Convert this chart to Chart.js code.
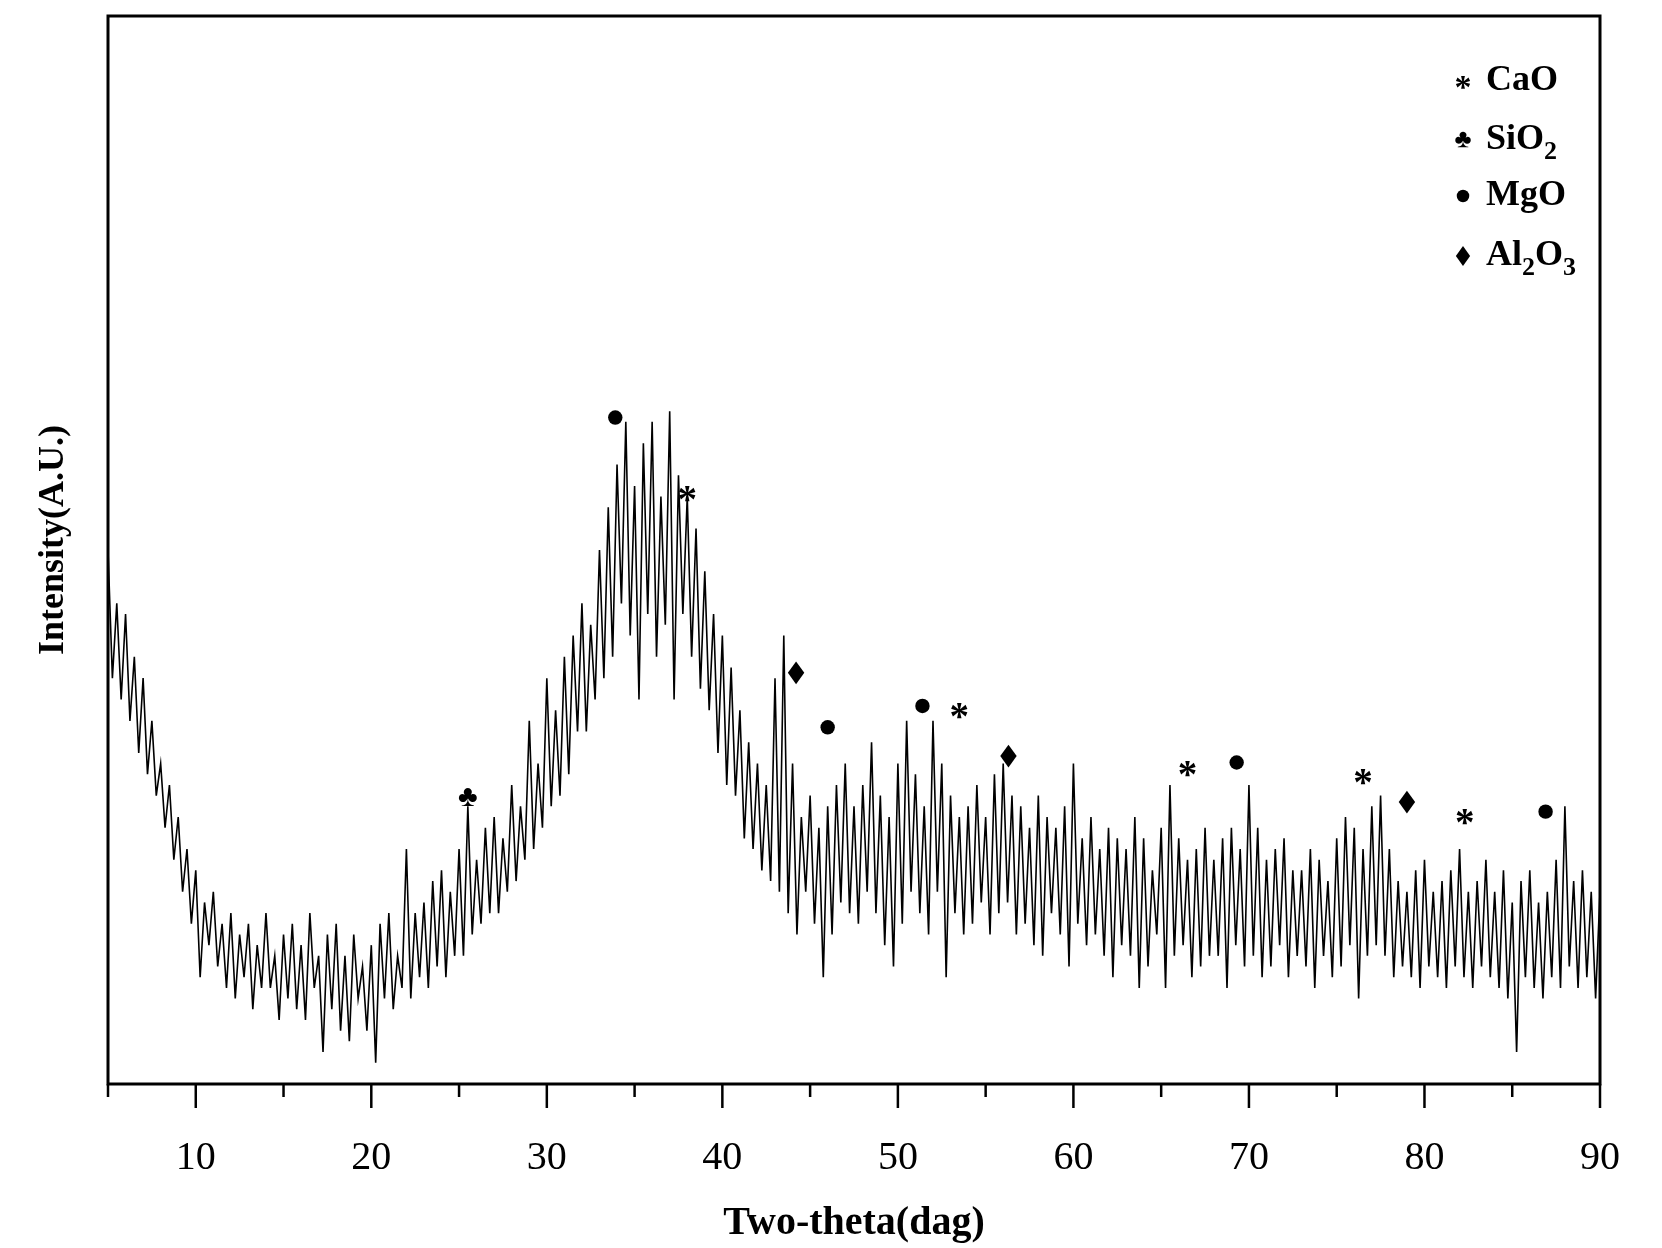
<!DOCTYPE html>
<html>
<head>
<meta charset="utf-8">
<script src="https://cdn.jsdelivr.net/npm/chart.js@4/dist/chart.umd.min.js"></script>
<style>
  body { margin: 0; background: #fff; }
  #wrap { width: 1662px; height: 1248px; }
</style>
</head>
<body>
<div id="wrap"><canvas id="xrd"></canvas></div>
<script>
// two-theta grid: 5 to 90 deg, step 0.25
const thetaStart = 5;
const thetaStep = 0.25;
const intensity = [
  50, 38, 45, 36, 44, 34, 40, 31, 38, 29, 34, 27, 30, 24, 28, 21,
  25, 18, 22, 15, 20, 10, 17, 13, 18, 11, 15, 9, 16, 8, 14, 10,
  15, 7, 13, 9, 16, 9, 12, 6, 14, 8, 15, 7, 13, 6, 16, 9,
  12, 3, 14, 7, 15, 5, 12, 4, 14, 8, 11, 5, 13, 2, 15, 8,
  16, 7, 12, 9, 22, 8, 16, 10, 17, 9, 19, 11, 20, 10, 18, 12,
  22, 12, 26, 14, 21, 15, 24, 16, 25, 16, 23, 18, 28, 19, 26, 21,
  34, 22, 30, 24, 38, 26, 35, 27, 40, 29, 42, 33, 45, 33, 43, 36,
  50, 38, 54, 40, 58, 45, 62, 42, 56, 36, 60, 44, 62, 40, 55, 43,
  63, 36, 57, 44, 55, 40, 52, 37, 48, 35, 44, 31, 42, 28, 39, 27,
  35, 23, 32, 22, 30, 20, 28, 19, 38, 18, 42, 16, 30, 14, 25, 18,
  27, 15, 24, 10, 26, 14, 28, 17, 30, 16, 26, 15, 28, 18, 32, 16,
  27, 13, 25, 11, 30, 15, 34, 18, 29, 16, 26, 14, 34, 18, 30, 10,
  27, 16, 25, 14, 26, 15, 28, 17, 25, 14, 29, 16, 30, 17, 27, 14,
  26, 15, 24, 13, 27, 12, 25, 16, 24, 14, 26, 11, 30, 15, 23, 13,
  25, 14, 22, 12, 24, 10, 23, 13, 22, 12, 25, 9, 23, 11, 20, 14,
  24, 9, 28, 12, 23, 13, 21, 10, 22, 11, 24, 12, 21, 12, 23, 9,
  24, 13, 22, 11, 28, 12, 24, 10, 21, 11, 22, 13, 23, 10, 20, 12,
  20, 11, 22, 9, 21, 12, 19, 10, 23, 11, 25, 13, 24, 8, 22, 12,
  26, 13, 27, 12, 22, 10, 19, 11, 18, 10, 20, 9, 21, 11, 18, 10,
  19, 9, 20, 11, 22, 10, 18, 9, 19, 11, 21, 10, 18, 9, 20, 8,
  17, 3, 19, 10, 20, 9, 17, 8, 18, 10, 21, 9, 26, 11, 19, 9,
  20, 10, 18, 8, 18
];

// phase markers: two-theta, height, symbol
const markTheta = [25.5, 33.9, 38.0, 44.2, 46.0, 51.4, 53.5, 56.3, 66.5, 69.3, 76.5, 79.0, 82.3, 86.9];
const markHeight = [26.8, 62.4, 55.3, 38.5, 33.4, 35.4, 35.0, 30.7, 29.6, 30.1, 28.8, 26.4, 25.1, 25.5];
const markSymbol = ['♣', '●', '*', '◆', '●', '●', '*', '◆', '*', '●', '*', '◆', '*', '●'];

const legendSymbols = ['*', '♣', '●', '◆'];
const legendNames = [['CaO'], ['SiO', '2'], ['MgO'], ['Al', '2', 'O', '3']];

const xLabels = [10, 20, 30, 40, 50, 60, 70, 80, 90];
const serif = '"Liberation Serif", "DejaVu Serif", serif';

function drawSymbol(ctx, sym, x, y, size) {
  ctx.fillStyle = '#000';
  if (sym === '●') {
    ctx.beginPath(); ctx.arc(x, y, size * 0.24, 0, Math.PI * 2); ctx.fill();
  } else if (sym === '◆') {
    const s = size * 0.38;
    ctx.beginPath();
    ctx.moveTo(x, y - s); ctx.lineTo(x + s * 0.72, y); ctx.lineTo(x, y + s); ctx.lineTo(x - s * 0.72, y);
    ctx.closePath(); ctx.fill();
  } else if (sym === '*') {
    ctx.font = 'bold ' + Math.round(size * 1.3) + 'px ' + serif;
    ctx.textAlign = 'center';
    ctx.textBaseline = 'middle';
    ctx.fillText(sym, x, y + size * 0.3);
  } else {
    ctx.font = 'bold ' + size + 'px ' + serif;
    ctx.textAlign = 'center';
    ctx.textBaseline = 'middle';
    ctx.fillText(sym, x, y);
  }
}

const decor = {
  id: 'decor',
  afterDraw(chart) {
    const ctx = chart.ctx;
    const a = chart.chartArea;
    const xs = chart.scales.x, ys = chart.scales.y;
    ctx.save();
    // frame
    ctx.strokeStyle = '#000';
    ctx.lineWidth = 3;
    ctx.strokeRect(a.left, a.top, a.right - a.left, a.bottom - a.top);
    // ticks
    ctx.lineWidth = 2.5;
    for (let t = 5; t <= 90; t += 5) {
      const px = xs.getPixelForValue(t);
      ctx.beginPath();
      ctx.moveTo(px, a.bottom);
      ctx.lineTo(px, a.bottom + (t % 10 === 0 ? 24 : 13));
      ctx.stroke();
    }
    // markers
    markTheta.forEach((t, i) => {
      drawSymbol(ctx, markSymbol[i], xs.getPixelForValue(t), ys.getPixelForValue(markHeight[i]), 30);
    });
    // legend
    const rows = [81, 140, 196, 256];
    rows.forEach((ry, i) => {
      drawSymbol(ctx, legendSymbols[i], 1463, ry, 26);
      let cx = 1486;
      ctx.textAlign = 'left';
      ctx.textBaseline = 'middle';
      legendNames[i].forEach(part => {
        const sub = /^\d$/.test(part);
        ctx.font = 'bold ' + (sub ? 26 : 36) + 'px ' + serif;
        ctx.fillText(part, cx, sub ? ry + 12 : ry);
        cx += ctx.measureText(part).width;
      });
    });
    // axis titles
    ctx.font = 'bold 40px ' + serif;
    ctx.textAlign = 'center';
    ctx.textBaseline = 'middle';
    ctx.fillText('Two-theta(dag)', (a.left + a.right) / 2, 1224);
    ctx.translate(54, 540);
    ctx.rotate(-Math.PI / 2);
    ctx.font = 'bold 36px ' + serif;
    ctx.fillText('Intensity(A.U.)', 0, 0);
    ctx.restore();
  }
};

const points = intensity.map((v, i) => ({ x: thetaStart + i * thetaStep, y: v }));

new Chart(document.getElementById('xrd'), {
  type: 'line',
  data: {
    datasets: [{
      data: points,
      borderColor: '#000',
      borderWidth: 1.6,
      pointRadius: 0,
      tension: 0
    }]
  },
  options: {
    responsive: true,
    maintainAspectRatio: false,
    animation: false,
    layout: { padding: { left: 108, top: 16, right: 35, bottom: 0 } },
    plugins: { legend: { display: false }, tooltip: { enabled: false } },
    scales: {
      x: {
        type: 'linear',
        min: 5,
        max: 90,
        grid: { display: false },
        border: { display: false },
        afterFit(scale) { scale.height = 164; },
        ticks: {
          stepSize: 10,
          padding: 42,
          color: '#000',
          font: { family: serif, size: 40 },
          maxRotation: 0,
          callback: v => (xLabels.includes(v) ? v : '')
        },
        afterBuildTicks(scale) { scale.ticks = xLabels.map(v => ({ value: v })); }
      },
      y: { display: false, min: 0, max: 100 }
    }
  },
  plugins: [decor]
});
</script>
</body>
</html>
